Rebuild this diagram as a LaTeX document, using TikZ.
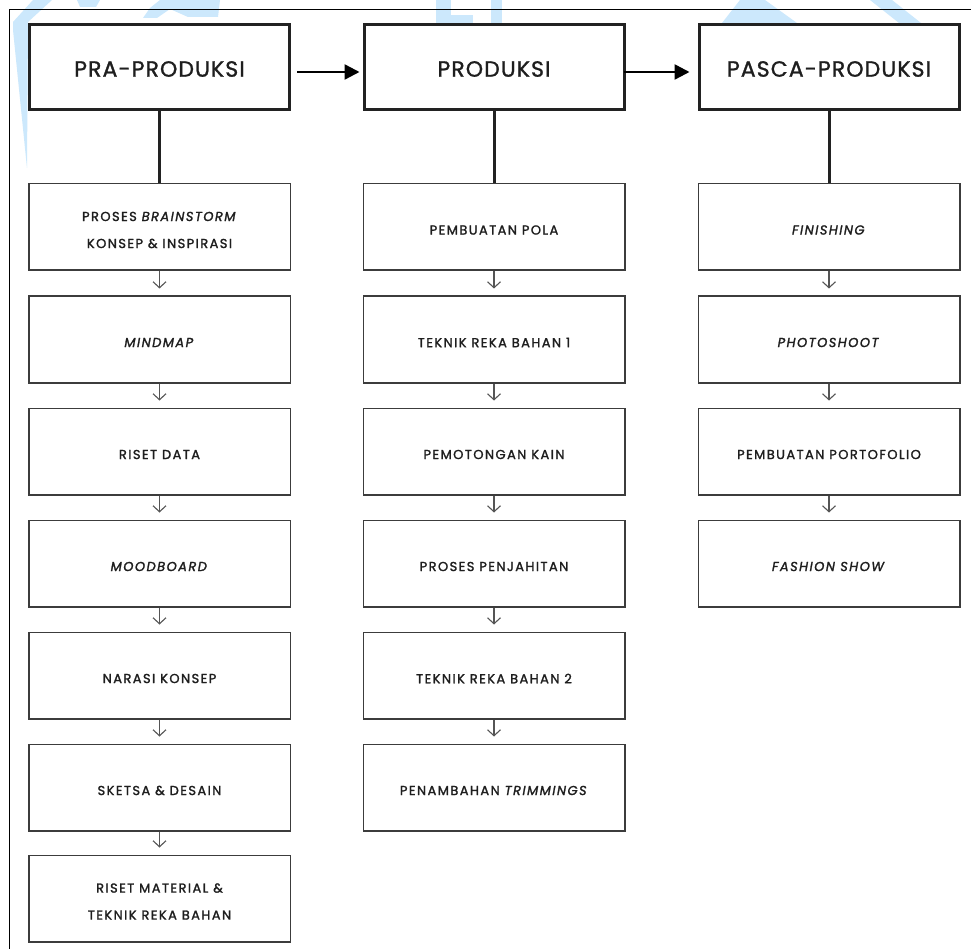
\documentclass[tikz,border=0pt]{standalone}
\usepackage{fontspec}
\usetikzlibrary{arrows.meta}
\newfontfamily\pfsub[LetterSpace=11,FakeBold=1.6]{Poppins}
\newfontfamily\pfhead[LetterSpace=5,FakeBold=1.2]{Poppins}
\newcommand\subfont{\pfsub\fontsize{13}{27}\selectfont}
\newcommand\headfont{\pfhead\fontsize{22}{26}\selectfont}
\definecolor{ink}{HTML}{1E1E1E}
\definecolor{headc}{HTML}{222222}
\definecolor{subc}{HTML}{3C3C3C}
\definecolor{arrc}{HTML}{555555}
\definecolor{wm}{RGB}{204,232,252}
\tikzset{
  headbox/.style={draw=headc, line width=3pt, fill=white, minimum width=260pt, minimum height=85pt, inner sep=0pt},
  subbox/.style={draw=subc, line width=1.5pt, fill=white, minimum width=261.5pt, minimum height=86.5pt, inner sep=0pt},
  headtxt/.style={font=\headfont, text=ink, yshift=-2pt, inner sep=0pt},
  subtxt/.style={font=\subfont, text=ink, align=center, yshift=-3pt, inner sep=0pt},
  bigarrow/.style={draw=black, line width=2.5pt, -{Triangle[length=15pt,width=15pt]}},
  stem/.style={draw=headc, line width=3pt},
  smallarrow/.style={draw=arrc, line width=1.1pt, -{Straight Barb[length=6pt,width=13pt,line width=1.1pt]}},
  wmshape/.style={fill=wm, draw=none}
}
\begin{document}
\begin{tikzpicture}[x=1pt, y=-1pt]
\useasboundingbox (0,0) rectangle (971,949);
\fill[white] (0,0) rectangle (971,949);
% watermark fragments
\fill[wmshape] (33,0) -- (52,0) -- (28,22) -- (27,168) -- (13,30) -- (13,22) -- cycle;
\fill[wmshape] (77,0) -- (100,0) -- (96,7) -- (80,7) -- cycle;
\fill[wmshape] (160,0) -- (220,0) -- (218,17) -- (188,17) -- (170,9) -- (157,18) -- (143,18) -- (150,8) -- cycle;
\fill[wmshape] (436,0) rectangle (451,23);
\fill[wmshape] (451,15) rectangle (473,23);
\fill[wmshape] (491,0) rectangle (502,23);
\fill[wmshape] (740,0) -- (765,0) -- (797,23) -- (722,23) -- cycle;
\fill[wmshape] (870,0) -- (892,0) -- (921,23) -- (899,23) -- cycle;
% frame
\draw[black, line width=1pt] (9,949) -- (9,10) -- (971,10);
% headers
\node[headbox, label={[headtxt]center:PRA-PRODUKSI}] (h1) at (159.5,67) {};
\node[headbox, label={[headtxt]center:PRODUKSI}] (h2) at (494,67) {};
\node[headbox, label={[headtxt]center:PASCA-PRODUKSI}] (h3) at (829,67) {};
\draw[bigarrow] ([xshift=6pt,yshift=-5pt]h1.east) -- ([xshift=-3pt,yshift=-5pt]h2.west);
\draw[bigarrow] ([xshift=-2pt,yshift=-5pt]h2.east) -- ([xshift=-8pt,yshift=-5pt]h3.west);
% column 1
\node[subbox, label={[subtxt]center:PROSES \textit{BRAINSTORM}\\KONSEP \& INSPIRASI}] (a1) at (159.5,227) {};
\node[subbox, label={[subtxt]center:\textit{MINDMAP}}] (a2) at (159.5,339.5) {};
\node[subbox, label={[subtxt]center:RISET DATA}] (a3) at (159.5,451.5) {};
\node[subbox, label={[subtxt]center:\textit{MOODBOARD}}] (a4) at (159.5,563.5) {};
\node[subbox, label={[subtxt]center:NARASI KONSEP}] (a5) at (159.5,675.5) {};
\node[subbox, label={[subtxt]center:SKETSA \& DESAIN}] (a6) at (159.5,787.5) {};
\node[subbox, label={[subtxt]center:RISET MATERIAL \&\\TEKNIK REKA BAHAN}] (a7) at (159.5,898.5) {};
% column 2
\node[subbox, label={[subtxt]center:PEMBUATAN POLA}] (b1) at (494,227) {};
\node[subbox, label={[subtxt]center:TEKNIK REKA BAHAN 1}] (b2) at (494,339.5) {};
\node[subbox, label={[subtxt]center:PEMOTONGAN KAIN}] (b3) at (494,451.5) {};
\node[subbox, label={[subtxt]center:PROSES PENJAHITAN}] (b4) at (494,563.5) {};
\node[subbox, label={[subtxt]center:TEKNIK REKA BAHAN 2}] (b5) at (494,675.5) {};
\node[subbox, label={[subtxt]center:PENAMBAHAN \textit{TRIMMINGS}}] (b6) at (494,787.5) {};
% column 3
\node[subbox, label={[subtxt]center:\textit{FINISHING}}] (c1) at (829,227) {};
\node[subbox, label={[subtxt]center:\textit{PHOTOSHOOT}}] (c2) at (829,339.5) {};
\node[subbox, label={[subtxt]center:PEMBUATAN PORTOFOLIO}] (c3) at (829,451.5) {};
\node[subbox, label={[subtxt]center:\textit{FASHION SHOW}}] (c4) at (829,563.5) {};
% stems
\draw[stem] (h1.south) -- (a1.north);
\draw[stem] (h2.south) -- (b1.north);
\draw[stem] (h3.south) -- (c1.north);
% small arrows
\foreach \u/\v in {a1/a2,a2/a3,a3/a4,a4/a5,a5/a6,a6/a7,b1/b2,b2/b3,b3/b4,b4/b5,b5/b6,c1/c2,c2/c3,c3/c4}
  \draw[smallarrow] (\u.south) -- ([yshift=7pt]\v.north);
\end{tikzpicture}
\end{document}
